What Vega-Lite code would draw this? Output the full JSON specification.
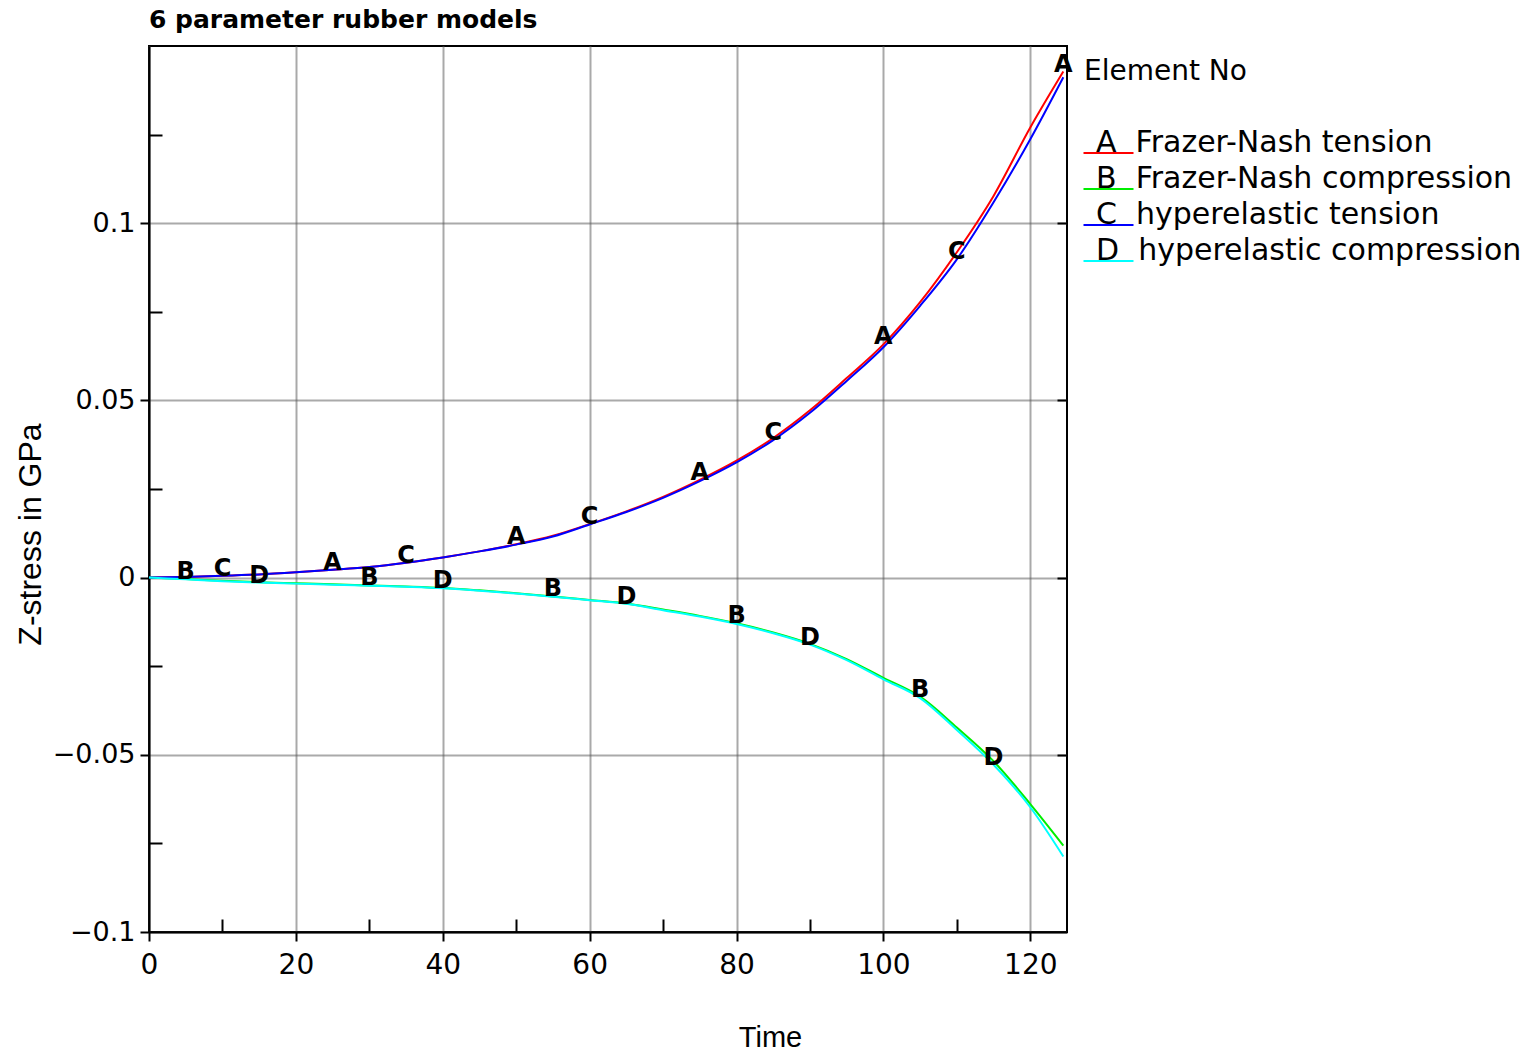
{
  "$schema": "https://vega.github.io/schema/vega-lite/v6.json",
  "width": 918,
  "height": 886,
  "autosize": "none",
  "padding": {"left": 149, "top": 46, "right": 466, "bottom": 121},
  "background": "white",
  "config": {
    "font": "DejaVu Sans",
    "view": {"stroke": "black", "strokeWidth": 2},
    "axis": {"domainColor": "black", "domainWidth": 2, "tickColor": "black", "tickWidth": 2, "labelColor": "black", "titleColor": "black"}
  },
  "title": {"text": "6 parameter rubber models", "anchor": "start", "frame": "group", "font": "DejaVu Sans", "fontSize": 25, "fontWeight": "bold", "color": "black", "baseline": "alphabetic", "offset": -7},
  "data": {"values": [
    {"series": "Frazer-Nash tension", "time": 0, "stress": 0},
    {"series": "Frazer-Nash tension", "time": 5, "stress": 0.0002},
    {"series": "Frazer-Nash tension", "time": 10, "stress": 0.0005},
    {"series": "Frazer-Nash tension", "time": 15, "stress": 0.0009},
    {"series": "Frazer-Nash tension", "time": 20, "stress": 0.0015},
    {"series": "Frazer-Nash tension", "time": 25, "stress": 0.0022, "label": "A"},
    {"series": "Frazer-Nash tension", "time": 30, "stress": 0.0030},
    {"series": "Frazer-Nash tension", "time": 35, "stress": 0.0042},
    {"series": "Frazer-Nash tension", "time": 40, "stress": 0.0057},
    {"series": "Frazer-Nash tension", "time": 45, "stress": 0.0074},
    {"series": "Frazer-Nash tension", "time": 50, "stress": 0.0094, "label": "A"},
    {"series": "Frazer-Nash tension", "time": 55, "stress": 0.0118},
    {"series": "Frazer-Nash tension", "time": 60, "stress": 0.0151},
    {"series": "Frazer-Nash tension", "time": 65, "stress": 0.0187},
    {"series": "Frazer-Nash tension", "time": 70, "stress": 0.0228},
    {"series": "Frazer-Nash tension", "time": 75, "stress": 0.0276, "label": "A"},
    {"series": "Frazer-Nash tension", "time": 80, "stress": 0.0330},
    {"series": "Frazer-Nash tension", "time": 85, "stress": 0.0394},
    {"series": "Frazer-Nash tension", "time": 90, "stress": 0.0472},
    {"series": "Frazer-Nash tension", "time": 95, "stress": 0.0563},
    {"series": "Frazer-Nash tension", "time": 100, "stress": 0.0658, "label": "A"},
    {"series": "Frazer-Nash tension", "time": 105, "stress": 0.0777},
    {"series": "Frazer-Nash tension", "time": 110, "stress": 0.0918},
    {"series": "Frazer-Nash tension", "time": 115, "stress": 0.1077},
    {"series": "Frazer-Nash tension", "time": 120, "stress": 0.1270},
    {"series": "Frazer-Nash tension", "time": 124.5, "stress": 0.1428, "label": "A"},
    {"series": "Frazer-Nash compression", "time": 0, "stress": 0},
    {"series": "Frazer-Nash compression", "time": 5, "stress": -0.0004, "label": "B"},
    {"series": "Frazer-Nash compression", "time": 10, "stress": -0.0009},
    {"series": "Frazer-Nash compression", "time": 15, "stress": -0.0013},
    {"series": "Frazer-Nash compression", "time": 20, "stress": -0.0016},
    {"series": "Frazer-Nash compression", "time": 25, "stress": -0.0019},
    {"series": "Frazer-Nash compression", "time": 30, "stress": -0.0022, "label": "B"},
    {"series": "Frazer-Nash compression", "time": 35, "stress": -0.0025},
    {"series": "Frazer-Nash compression", "time": 40, "stress": -0.0029},
    {"series": "Frazer-Nash compression", "time": 45, "stress": -0.0036},
    {"series": "Frazer-Nash compression", "time": 50, "stress": -0.0044},
    {"series": "Frazer-Nash compression", "time": 55, "stress": -0.0053, "label": "B"},
    {"series": "Frazer-Nash compression", "time": 60, "stress": -0.0063},
    {"series": "Frazer-Nash compression", "time": 65, "stress": -0.0073},
    {"series": "Frazer-Nash compression", "time": 70, "stress": -0.0090},
    {"series": "Frazer-Nash compression", "time": 75, "stress": -0.0108},
    {"series": "Frazer-Nash compression", "time": 80, "stress": -0.0129, "label": "B"},
    {"series": "Frazer-Nash compression", "time": 85, "stress": -0.0155},
    {"series": "Frazer-Nash compression", "time": 90, "stress": -0.0187},
    {"series": "Frazer-Nash compression", "time": 95, "stress": -0.0230},
    {"series": "Frazer-Nash compression", "time": 100, "stress": -0.0283},
    {"series": "Frazer-Nash compression", "time": 105, "stress": -0.0336, "label": "B"},
    {"series": "Frazer-Nash compression", "time": 110, "stress": -0.0423},
    {"series": "Frazer-Nash compression", "time": 115, "stress": -0.0518},
    {"series": "Frazer-Nash compression", "time": 120, "stress": -0.0639},
    {"series": "Frazer-Nash compression", "time": 124.5, "stress": -0.0756},
    {"series": "hyperelastic tension", "time": 0, "stress": 0},
    {"series": "hyperelastic tension", "time": 5, "stress": 0.0002},
    {"series": "hyperelastic tension", "time": 10, "stress": 0.0005, "label": "C"},
    {"series": "hyperelastic tension", "time": 15, "stress": 0.0009},
    {"series": "hyperelastic tension", "time": 20, "stress": 0.0015},
    {"series": "hyperelastic tension", "time": 25, "stress": 0.0022},
    {"series": "hyperelastic tension", "time": 30, "stress": 0.0030},
    {"series": "hyperelastic tension", "time": 35, "stress": 0.0042, "label": "C"},
    {"series": "hyperelastic tension", "time": 40, "stress": 0.0057},
    {"series": "hyperelastic tension", "time": 45, "stress": 0.0074},
    {"series": "hyperelastic tension", "time": 50, "stress": 0.0093},
    {"series": "hyperelastic tension", "time": 55, "stress": 0.0116},
    {"series": "hyperelastic tension", "time": 60, "stress": 0.0150, "label": "C"},
    {"series": "hyperelastic tension", "time": 65, "stress": 0.0185},
    {"series": "hyperelastic tension", "time": 70, "stress": 0.0225},
    {"series": "hyperelastic tension", "time": 75, "stress": 0.0272},
    {"series": "hyperelastic tension", "time": 80, "stress": 0.0325},
    {"series": "hyperelastic tension", "time": 85, "stress": 0.0388, "label": "C"},
    {"series": "hyperelastic tension", "time": 90, "stress": 0.0465},
    {"series": "hyperelastic tension", "time": 95, "stress": 0.0555},
    {"series": "hyperelastic tension", "time": 100, "stress": 0.0650},
    {"series": "hyperelastic tension", "time": 105, "stress": 0.0767},
    {"series": "hyperelastic tension", "time": 110, "stress": 0.0898, "label": "C"},
    {"series": "hyperelastic tension", "time": 115, "stress": 0.1059},
    {"series": "hyperelastic tension", "time": 120, "stress": 0.1237},
    {"series": "hyperelastic tension", "time": 124.5, "stress": 0.1412},
    {"series": "hyperelastic compression", "time": 0, "stress": 0},
    {"series": "hyperelastic compression", "time": 5, "stress": -0.0005},
    {"series": "hyperelastic compression", "time": 10, "stress": -0.0010},
    {"series": "hyperelastic compression", "time": 15, "stress": -0.0014, "label": "D"},
    {"series": "hyperelastic compression", "time": 20, "stress": -0.0017},
    {"series": "hyperelastic compression", "time": 25, "stress": -0.0020},
    {"series": "hyperelastic compression", "time": 30, "stress": -0.0023},
    {"series": "hyperelastic compression", "time": 35, "stress": -0.0026},
    {"series": "hyperelastic compression", "time": 40, "stress": -0.0030, "label": "D"},
    {"series": "hyperelastic compression", "time": 45, "stress": -0.0037},
    {"series": "hyperelastic compression", "time": 50, "stress": -0.0045},
    {"series": "hyperelastic compression", "time": 55, "stress": -0.0054},
    {"series": "hyperelastic compression", "time": 60, "stress": -0.0064},
    {"series": "hyperelastic compression", "time": 65, "stress": -0.0074, "label": "D"},
    {"series": "hyperelastic compression", "time": 70, "stress": -0.0092},
    {"series": "hyperelastic compression", "time": 75, "stress": -0.0110},
    {"series": "hyperelastic compression", "time": 80, "stress": -0.0131},
    {"series": "hyperelastic compression", "time": 85, "stress": -0.0157},
    {"series": "hyperelastic compression", "time": 90, "stress": -0.0189, "label": "D"},
    {"series": "hyperelastic compression", "time": 95, "stress": -0.0233},
    {"series": "hyperelastic compression", "time": 100, "stress": -0.0287},
    {"series": "hyperelastic compression", "time": 105, "stress": -0.0340},
    {"series": "hyperelastic compression", "time": 110, "stress": -0.0430},
    {"series": "hyperelastic compression", "time": 115, "stress": -0.0528, "label": "D"},
    {"series": "hyperelastic compression", "time": 120, "stress": -0.0648},
    {"series": "hyperelastic compression", "time": 124.5, "stress": -0.0787}
  ]},
  "resolve": {"axis": {"x": "independent", "y": "independent"}},
  "layer": [
    {
      "mark": {"type": "line", "strokeWidth": 2, "interpolate": "monotone"},
      "encoding": {
        "x": {"field": "time", "type": "quantitative", "scale": {"domain": [0, 125], "nice": false, "zero": false},
          "axis": {"orient": "bottom", "values": [0, 20, 40, 60, 80, 100, 120], "grid": true, "gridColor": "#555555", "gridDash": [1, 1], "gridWidth": 2,
            "tickSize": 9, "labelFont": "DejaVu Sans", "labelFontSize": 28, "labelPadding": 10, "labelFlush": false,
            "title": "Time", "titleFont": "Liberation Sans", "titleFontSize": 29, "titleFontWeight": "normal", "titleX": 621, "titleY": 105, "titleBaseline": "middle", "titleAlign": "center"}},
        "y": {"field": "stress", "type": "quantitative", "scale": {"domain": [-0.1, 0.15], "nice": false, "zero": false},
          "axis": {"orient": "left", "values": [-0.1, -0.05, 0, 0.05, 0.1], "format": "~g", "grid": true, "gridColor": "#555555", "gridDash": [1, 1], "gridWidth": 2,
            "tickSize": 9, "labelFont": "DejaVu Sans", "labelFontSize": 27, "labelPadding": 5, "labelFlush": false,
            "title": "Z-stress in GPa", "titleFont": "Liberation Sans", "titleFontSize": 32, "titleFontWeight": "normal", "titleAngle": -90, "titleX": -119, "titleY": 488, "titleBaseline": "middle", "titleAlign": "center"}},
        "color": {"field": "series", "type": "nominal",
          "scale": {"domain": ["Frazer-Nash tension", "Frazer-Nash compression", "hyperelastic tension", "hyperelastic compression"], "range": ["#ff0000", "#00ee00", "#0000ff", "#00ffff"]},
          "legend": {"title": "Element No", "orient": "right", "offset": 4, "padding": 12,
            "titleFont": "DejaVu Sans", "titleFontSize": 28, "titleFontWeight": "normal", "titleColor": "black", "titlePadding": 42,
            "labelFont": "DejaVu Sans", "labelFontSize": 30, "labelColor": "black", "labelLimit": 0, "labelOffset": -18,
            "symbolType": "M-1.24,0.8L2.76,0.8", "symbolSize": 625, "symbolStrokeWidth": 2, "rowPadding": 6,
            "labelExpr": "'\u00a0\u00a0' + (datum.label == 'Frazer-Nash tension' ? 'A' : datum.label == 'Frazer-Nash compression' ? 'B' : datum.label == 'hyperelastic tension' ? 'C' : 'D') + '\u00a0\u00a0' + datum.label"}}
      }
    },
    {
      "transform": [{"filter": "isValid(datum.label) && indexof(datum.series, 'tension') >= 0"}],
      "mark": {"type": "text", "font": "DejaVu Sans", "fontSize": 24, "fontWeight": "bold", "color": "black", "align": "center", "baseline": "alphabetic", "dy": 0},
      "encoding": {
        "x": {"field": "time", "type": "quantitative",
          "axis": {"orient": "bottom", "values": [10, 30, 50, 70, 90, 110], "tickSize": -13, "labels": false, "domain": false, "grid": false, "title": null}},
        "y": {"field": "stress", "type": "quantitative",
          "axis": {"orient": "left", "values": [-0.075, -0.025, 0.025, 0.075, 0.125], "tickSize": -13, "labels": false, "domain": false, "grid": false, "title": null}},
        "text": {"field": "label"}
      }
    },
    {
      "transform": [{"filter": "isValid(datum.label) && indexof(datum.series, 'compression') >= 0"}],
      "mark": {"type": "text", "font": "DejaVu Sans", "fontSize": 24, "fontWeight": "bold", "color": "black", "align": "center", "baseline": "alphabetic", "dy": 0},
      "encoding": {
        "x": {"field": "time", "type": "quantitative", "axis": null},
        "y": {"field": "stress", "type": "quantitative",
          "axis": {"orient": "right", "values": [-0.05, 0, 0.05, 0.1], "tickSize": -10, "labels": false, "domain": false, "grid": false, "title": null}},
        "text": {"field": "label"}
      }
    }
  ]
}
